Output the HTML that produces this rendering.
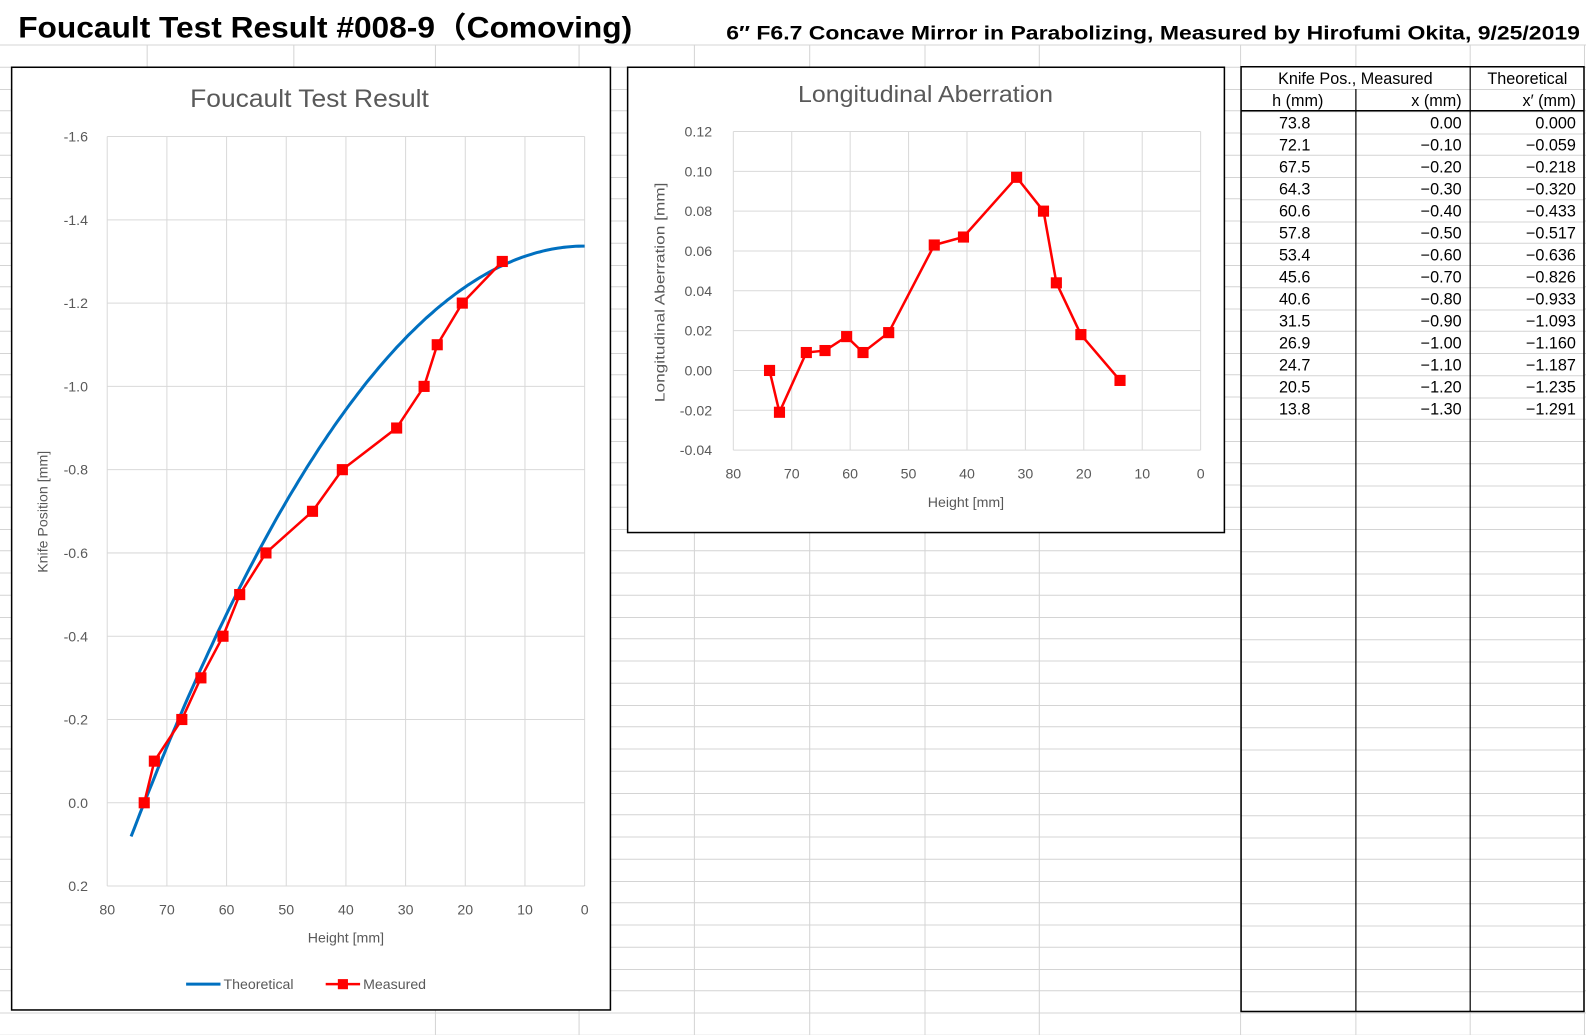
<!DOCTYPE html>
<html><head><meta charset="utf-8">
<style>
body{margin:0;background:#fff;width:1586px;height:1035px;overflow:hidden;font-family:"Liberation Sans","Noto Sans CJK JP",sans-serif;}
svg{position:absolute;left:0;top:0}
</style></head><body>
<svg id="s" width="1586" height="1035" xmlns="http://www.w3.org/2000/svg" font-family="Liberation Sans, Noto Sans CJK JP, sans-serif">
<g transform="scale(1.01148)">
<g id="grid" stroke="#d4d4d4" stroke-width="1"></g>
<text x="18" y="37" font-size="29" font-weight="bold" fill="#000" textLength="607" lengthAdjust="spacingAndGlyphs">Foucault Test Result #008-9（Comoving)</text>
<text x="718" y="39" font-size="19" font-weight="bold" fill="#000" textLength="844" lengthAdjust="spacingAndGlyphs">6″ F6.7 Concave Mirror in Parabolizing, Measured by Hirofumi Okita, 9/25/2019</text>
<rect x="11.5" y="66.5" width="592" height="932" fill="#fff" stroke="#000" stroke-width="1.5"/>
<rect x="620.5" y="66.5" width="590" height="460" fill="#fff" stroke="#000" stroke-width="1.5"/>
<rect x="1227" y="66" width="339" height="934" fill="#fff"/>
<g id="c1"></g><g id="c2"></g><g id="tb"></g>
</g>
</svg>
<script>
var NS="http://www.w3.org/2000/svg";
function el(p,t,a,txt){var e=document.createElementNS(NS,t);for(var k in a)e.setAttribute(k,a[k]);if(txt!=null)e.textContent=txt;p.appendChild(e);return e;}
var g=document.getElementById('grid');
for(var y=44;y<1030;y+=21.75)el(g,'line',{x1:0,x2:1586,y1:Math.round(y)+.5,y2:Math.round(y)+.5});
[430,572,686,800,914,1027,1226,1340,1453,1566].forEach(function(x){el(g,'line',{x1:x+.5,x2:x+.5,y1:44,y2:1035});});
el(g,'line',{x1:145.5,x2:145.5,y1:44,y2:66});el(g,'line',{x1:290.5,x2:290.5,y1:44,y2:66});
var G='#595959';
var c1=document.getElementById('c1');
var L=106,R=578,T=135,B=876;
function X1(h){return R-(R-L)*h/80}function Y1(v){return T+(v+1.6)/1.8*(B-T)}
el(c1,'text',{x:306,y:106,'font-size':25,fill:G,'text-anchor':'middle',textLength:236,lengthAdjust:'spacingAndGlyphs'},'Foucault Test Result');
for(var i=0;i<=9;i++){var v=-1.6+0.2*i,y=Y1(v);el(c1,'line',{x1:L,x2:R,y1:y,y2:y,stroke:'#d9d9d9'});el(c1,'text',{x:87,y:y+5,'font-size':14,fill:G,'text-anchor':'end'},v.toFixed(1).replace('-0.0','0.0'));}
for(var h=0;h<=80;h+=10){var x=X1(h);el(c1,'line',{x1:x,x2:x,y1:T,y2:B,stroke:'#d9d9d9'});el(c1,'text',{x:x,y:904,'font-size':14,fill:G,'text-anchor':'middle'},h);}
el(c1,'text',{x:342,y:932,'font-size':14,fill:G,'text-anchor':'middle'},'Height [mm]');
el(c1,'text',{x:47,y:506,'font-size':14,fill:G,'text-anchor':'middle',transform:'rotate(-90 47 506)'},'Knife Position [mm]');
var d='';for(var h=76;h>=0;h-=0.5){d+=(h==76?'M':'L')+X1(h).toFixed(1)+','+Y1(-1.337+0.0002455*h*h).toFixed(1);}
el(c1,'path',{d:d,fill:'none',stroke:'#0070c0','stroke-width':3});
var H=[73.8,72.1,67.5,64.3,60.6,57.8,53.4,45.6,40.6,31.5,26.9,24.7,20.5,13.8];
var M=[0,-.1,-.2,-.3,-.4,-.5,-.6,-.7,-.8,-.9,-1,-1.1,-1.2,-1.3];
var Th=['0.000','−0.059','−0.218','−0.320','−0.433','−0.517','−0.636','−0.826','−0.933','−1.093','−1.160','−1.187','−1.235','−1.291'];
d='';H.forEach(function(h,i){d+=(i?'L':'M')+X1(h).toFixed(1)+','+Y1(M[i]).toFixed(1);});
el(c1,'path',{d:d,fill:'none',stroke:'#ff0000','stroke-width':2.5});
H.forEach(function(h,i){el(c1,'rect',{x:X1(h)-5.5,y:Y1(M[i])-5.5,width:11,height:11,fill:'#ff0000'});});
el(c1,'line',{x1:184,x2:218,y1:973,y2:973,stroke:'#0070c0','stroke-width':3});
el(c1,'text',{x:221,y:978,'font-size':14,fill:G},'Theoretical');
el(c1,'line',{x1:322,x2:356,y1:973,y2:973,stroke:'#ff0000','stroke-width':2.5});
el(c1,'rect',{x:334,y:968,width:10,height:10,fill:'#ff0000'});
el(c1,'text',{x:359,y:978,'font-size':14,fill:G},'Measured');
var c2=document.getElementById('c2');
var L2=725,R2=1187,T2=130,B2=445;
function X2(h){return R2-(R2-L2)*h/80}function Y2(v){return T2+(0.12-v)/0.16*(B2-T2)}
el(c2,'text',{x:915,y:101,'font-size':23,fill:G,'text-anchor':'middle',textLength:252,lengthAdjust:'spacingAndGlyphs'},'Longitudinal Aberration');
for(var i=0;i<=8;i++){var v=0.12-0.02*i,y=Y2(v);el(c2,'line',{x1:L2,x2:R2,y1:y,y2:y,stroke:'#d9d9d9'});el(c2,'text',{x:704,y:y+5,'font-size':14,fill:G,'text-anchor':'end'},(Math.abs(v)<1e-9?0:v).toFixed(2));}
for(var h=0;h<=80;h+=10){var x=X2(h);el(c2,'line',{x1:x,x2:x,y1:T2,y2:B2,stroke:'#d9d9d9'});el(c2,'text',{x:x,y:473,'font-size':14,fill:G,'text-anchor':'middle'},h);}
el(c2,'text',{x:955,y:501,'font-size':14,fill:G,'text-anchor':'middle'},'Height [mm]');
el(c2,'text',{x:657,y:289,'font-size':14,fill:G,'text-anchor':'middle',transform:'rotate(-90 657 289)',textLength:217,lengthAdjust:'spacingAndGlyphs'},'Longitudinal Aberration [mm]');
var A=[0,-0.021,0.009,0.010,0.017,0.009,0.019,0.063,0.067,0.097,0.080,0.044,0.018,-0.005];
d='';H.forEach(function(h,i){d+=(i?'L':'M')+X2(h).toFixed(1)+','+Y2(A[i]).toFixed(1);});
el(c2,'path',{d:d,fill:'none',stroke:'#ff0000','stroke-width':2.5});
H.forEach(function(h,i){el(c2,'rect',{x:X2(h)-5.5,y:Y2(A[i])-5.5,width:11,height:11,fill:'#ff0000'});});
var tb=document.getElementById('tb');
for(var y=88;y<1000;y+=21.75)el(tb,'line',{x1:1227,x2:1566,y1:Math.round(y)+.5,y2:Math.round(y)+.5,stroke:'#d4d4d4'});
el(tb,'rect',{x:1227,y:66,width:339,height:934,fill:'none',stroke:'#000','stroke-width':1.5});
el(tb,'line',{x1:1340.5,x2:1340.5,y1:88,y2:1000,stroke:'#000','stroke-width':1.2});
el(tb,'line',{x1:1453.5,x2:1453.5,y1:66,y2:1000,stroke:'#000','stroke-width':1.2});
el(tb,'line',{x1:1227,x2:1566,y1:109.5,y2:109.5,stroke:'#000','stroke-width':1.5});
function t(x,y,s,a){el(tb,'text',{x:x,y:y,'font-size':16,fill:'#000','text-anchor':a},s);}
t(1340,83,'Knife Pos., Measured','middle');t(1510,83,'Theoretical','middle');
t(1283,105,'h (mm)','middle');t(1445,105,'x (mm)','end');t(1558,105,'x′ (mm)','end');
H.forEach(function(h,i){var y=127+i*21.75;t(1280,y,h.toFixed(1),'middle');t(1445,y,M[i]==0?'0.00':'−'+(-M[i]).toFixed(2),'end');t(1558,y,Th[i],'end');});
</script>
</body></html>
